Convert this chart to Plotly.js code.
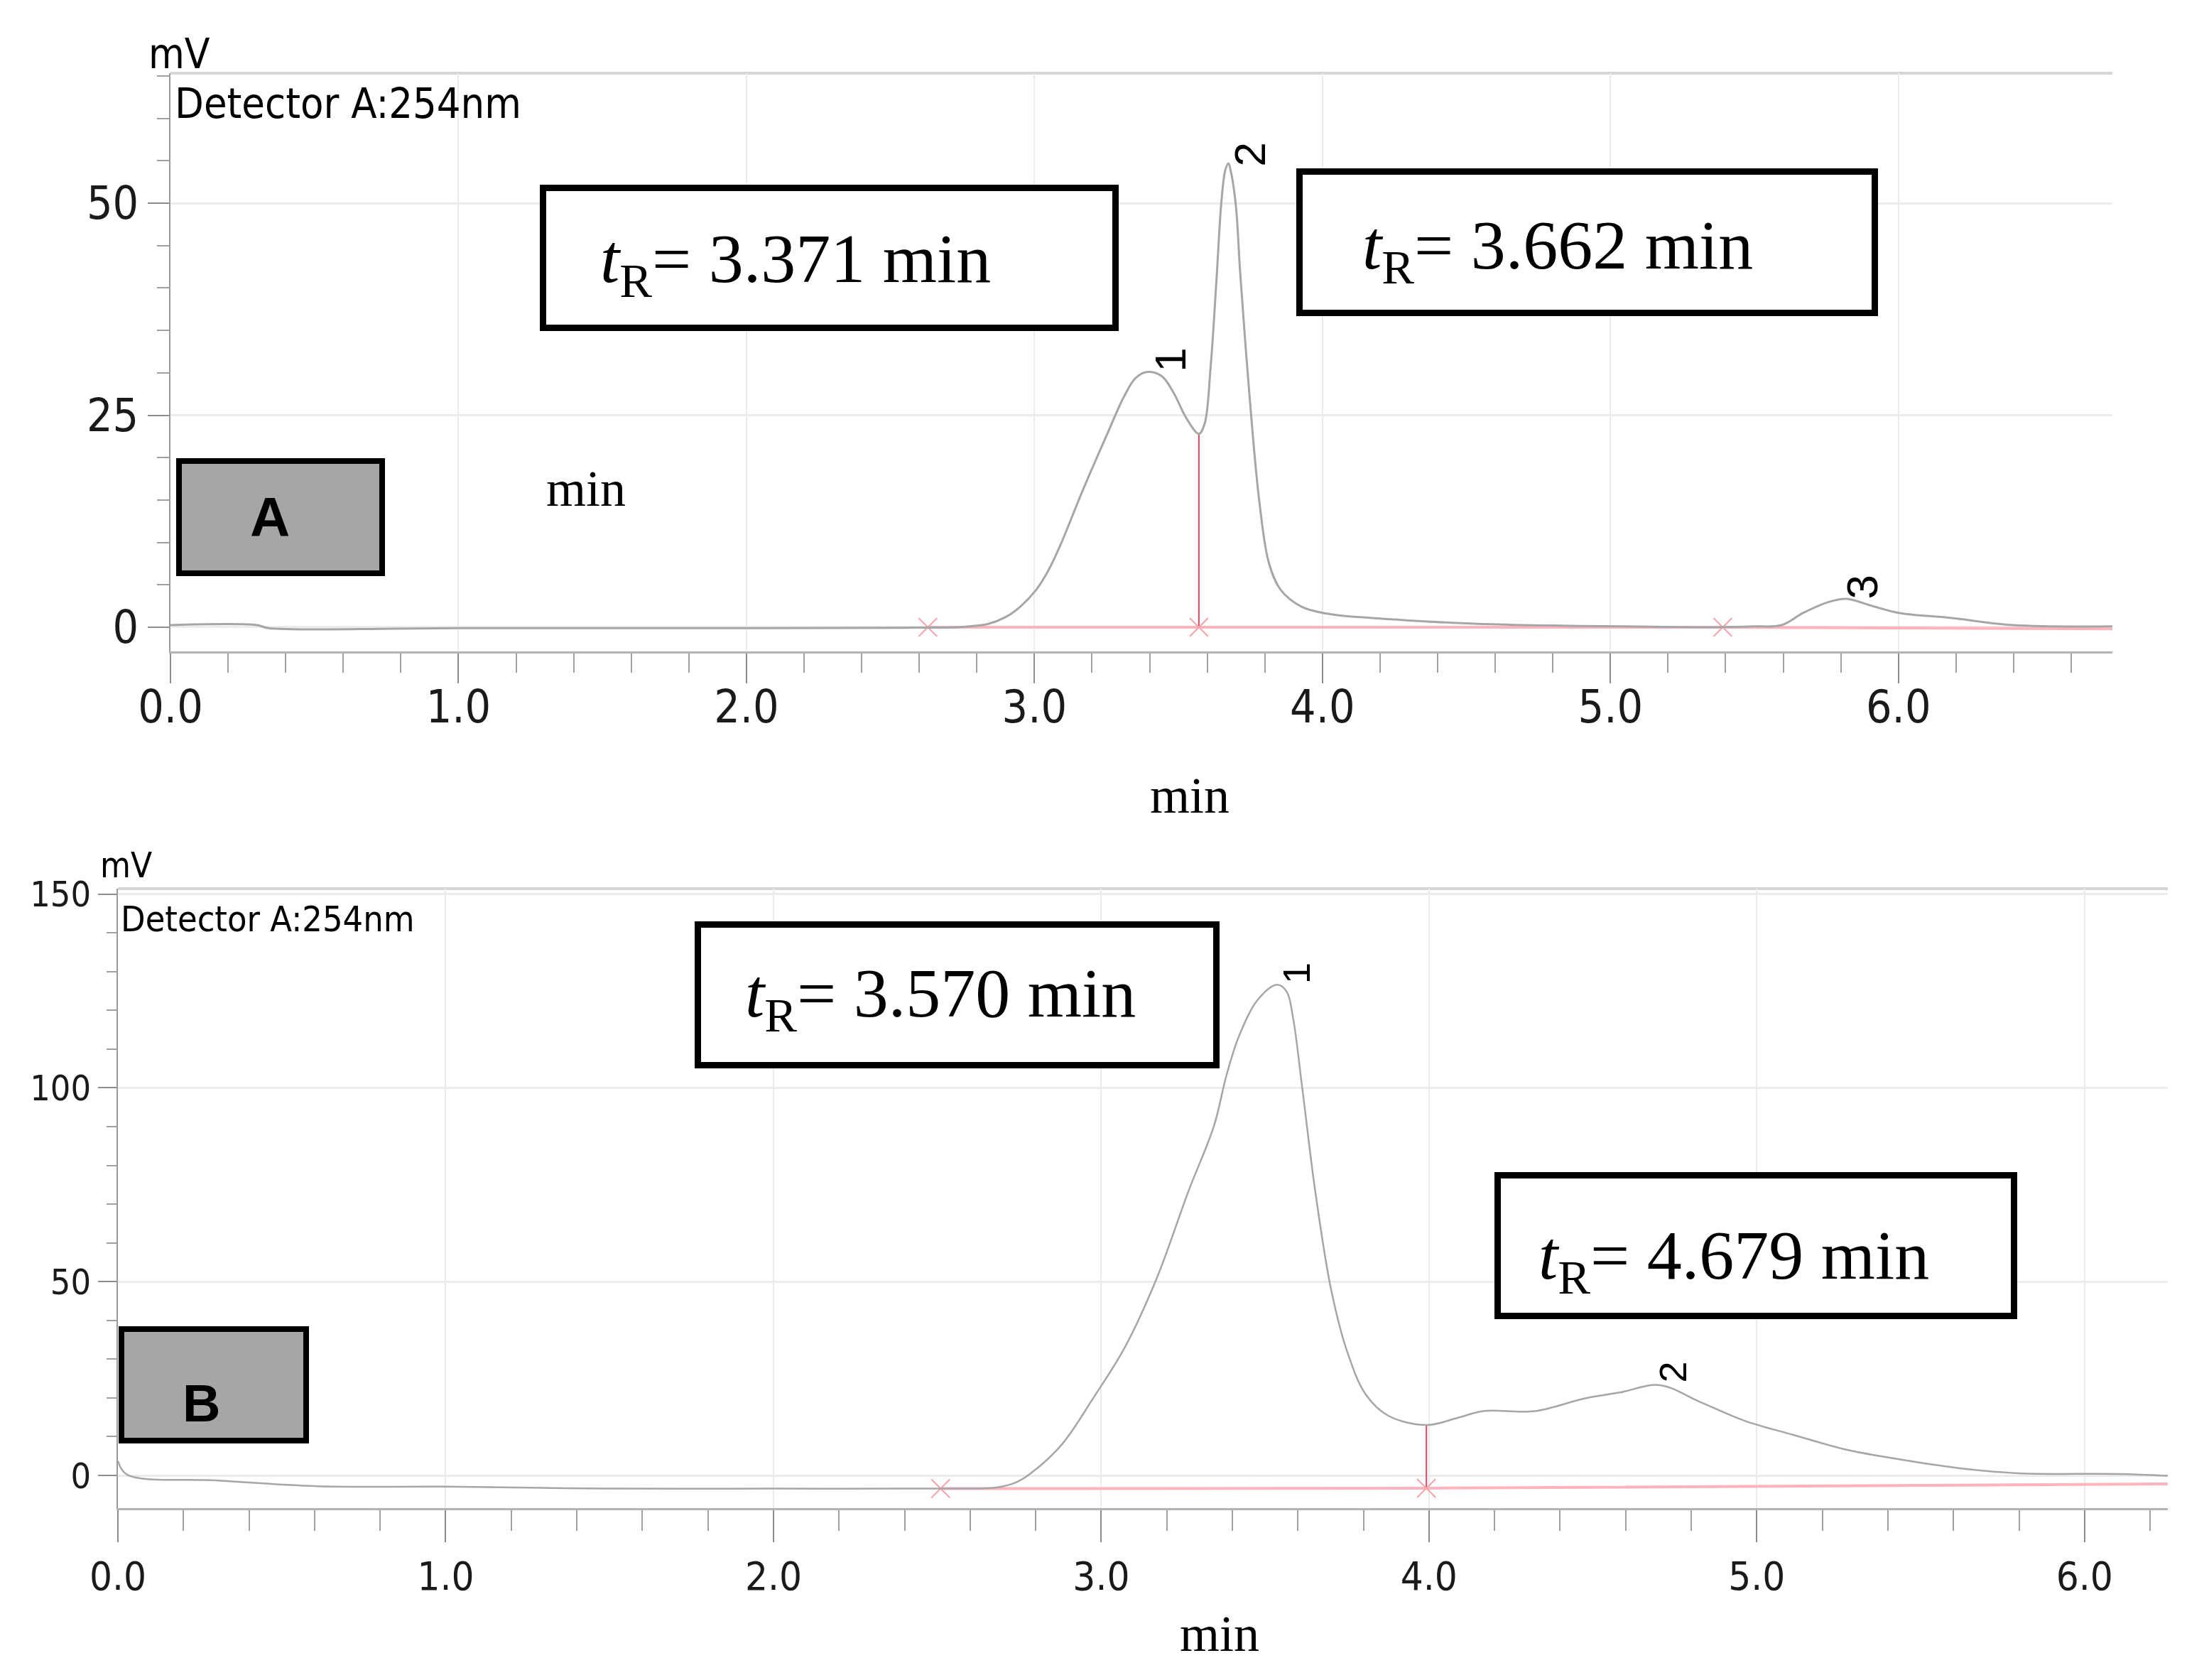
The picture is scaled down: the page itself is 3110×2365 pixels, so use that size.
<!DOCTYPE html>
<html>
<head>
<meta charset="utf-8">
<script src="https://cdn.plot.ly/plotly-3.0.1.min.js"></script>
<style>
  html, body { margin: 0; padding: 0; background: #fff; }
  #chart { width: 3110px; height: 2365px; }
</style>
</head>
<body>
<div id="chart"></div>
<script>
// HPLC chromatograms, Detector A 254 nm (panel A and panel B)

// panel A: retention time (min) and signal (mV)
var timeA = [0, 0.30, 0.34, 1.0, 2.0, 2.6, 2.75, 2.84, 2.90, 2.95, 3.006, 3.05, 3.089, 3.171, 3.253, 3.311, 3.352,
  3.393, 3.442, 3.484, 3.525, 3.571, 3.591, 3.612, 3.632, 3.649, 3.662, 3.673, 3.684, 3.70, 3.714,
  3.748, 3.781, 3.814, 3.855, 3.929, 4.035, 4.164, 4.30, 4.54, 4.80, 5.05, 5.38, 5.50, 5.594,
  5.67, 5.76, 5.82, 5.90, 6.0, 6.18, 6.40, 6.743];
var signalA = [0.25, 0.25, -0.1, -0.1, -0.1, -0.05, 0.05, 0.4, 1.2, 2.4, 4.4, 6.8, 9.6, 16.4, 22.8, 27.2, 29.4,
  30.1, 29.6, 27.6, 24.8, 22.8, 24.0, 30.8, 40.9, 50.1, 53.8, 54.7, 53.4, 49.5, 42.0,
  26.8, 14.8, 7.6, 4.4, 2.4, 1.5, 1.1, 0.8, 0.4, 0.2, 0.1, 0.0, 0.1, 0.25,
  1.7, 3.0, 3.35, 2.6, 1.7, 1.1, 0.25, 0.1];

// panel A integration baseline, peak split and marks
var baseTimeA = [2.63, 3.571, 5.39, 6.743];
var baseSignalA = [0, 0, 0, -0.2];
var splitTimeA = [3.571, 3.571];
var splitSignalA = [0, 22.8];
var markTimeA = [2.63, 3.571, 5.39];
var markSignalA = [0, 0, 0];

// panel A peak numbers and retention times
var peaksA = ['1', '2', '3'];
var peakLabelTimeA = [3.472, 3.748, 5.874];
var peakLabelSignalA = [31.5, 55.7, 4.7];
var retentionA = ['3.371', '3.662'];

// panel B
var timeB = [0, 0.028, 0.30, 0.61, 1.0, 1.49, 2.0, 2.5, 2.68, 2.74, 2.783, 2.879, 2.976, 3.073, 3.17,
  3.266, 3.344, 3.382, 3.421, 3.479, 3.537, 3.566, 3.585, 3.614, 3.653, 3.701, 3.749, 3.807,
  3.876, 3.992, 4.089, 4.165, 4.323, 4.476, 4.582, 4.704, 4.826, 4.963, 5.114, 5.266, 5.418,
  5.616, 5.799, 6.102, 6.254];
var signalB = [3.7, 0.2, -1.3, -2.8, -2.9, -3.4, -3.4, -3.4, -3.1, -1.8, 0.4, 7.9, 20.0, 33.2, 51.0,
  73.3, 90.2, 103.2, 113.5, 122.9, 126.6, 124.8, 118.2, 99.5, 73.3, 48.1, 32.3, 20.9,
  15.4, 13.0, 14.9, 16.6, 16.6, 19.9, 21.4, 23.3, 19.0, 14.1, 10.4, 6.8, 4.4,
  1.9, 0.55, 0.37, -0.1];

var baseTimeB = [2.51, 3.992, 6.254];
var baseSignalB = [-3.4, -3.3, -2.2];
var splitTimeB = [3.992, 3.992];
var splitSignalB = [-3.3, 13.0];
var markTimeB = [2.51, 3.992];
var markSignalB = [-3.4, -3.3];

var peaksB = ['1', '2'];
var peakLabelTimeB = [3.595, 4.743];
var peakLabelSignalB = [129.6, 26.6];
var retentionB = ['3.570', '4.679'];

var W = 3110, H = 2365;
function px(x) { return x / W; }
function py(y) { return 1 - y / H; }

var narrow = 'Liberation Sans Narrow, DejaVu Sans Condensed, Arial Narrow, sans-serif';
var serif = 'Liberation Serif, Times New Roman, serif';
var sans = 'Liberation Sans, Arial, sans-serif';
var curveColor = '#a6a6a6';
var baseColor = '#ffb3bd';
var splitColor = '#e2485c';

function curve(x, y, xa, ya, w) {
  return {x: x, y: y, xaxis: xa, yaxis: ya, type: 'scatter', mode: 'lines',
    line: {color: curveColor, width: w, shape: 'spline', smoothing: 1}, hoverinfo: 'x+y'};
}
function redLine(x, y, xa, ya, color, w) {
  return {x: x, y: y, xaxis: xa, yaxis: ya, type: 'scatter', mode: 'lines',
    line: {color: color, width: w}, hoverinfo: 'skip'};
}
function marks(x, y, xa, ya) {
  return {x: x, y: y, xaxis: xa, yaxis: ya, type: 'scatter', mode: 'markers',
    marker: {symbol: 'x-thin-open', size: 26, color: '#f7a3ae', line: {color: '#f7a3ae', width: 2}},
    hoverinfo: 'skip'};
}

var data = [
  redLine(baseTimeA, baseSignalA, 'x', 'y', baseColor, 4),
  redLine(splitTimeA, splitSignalA, 'x', 'y', splitColor, 2),
  marks(markTimeA, markSignalA, 'x', 'y'),
  curve(timeA, signalA, 'x', 'y', 3),
  redLine(baseTimeB, baseSignalB, 'x2', 'y2', baseColor, 4),
  redLine(splitTimeB, splitSignalB, 'x2', 'y2', splitColor, 2),
  marks(markTimeB, markSignalB, 'x2', 'y2'),
  curve(timeB, signalB, 'x2', 'y2', 2.5)
];

function xAxis(dom, range, size, len, standoff, anchor) {
  return {
    domain: dom, range: range, anchor: anchor, dtick: 1, tickformat: '.1f',
    ticks: 'outside', ticklen: len, tickwidth: 2, tickcolor: '#8c8c8c',
    ticklabelstandoff: standoff,
    showline: true, linecolor: '#b4b4b4', linewidth: 3,
    showgrid: true, gridcolor: '#ececec', gridwidth: 2, zeroline: false,
    minor: {dtick: 0.2, ticks: 'outside', ticklen: Math.round(len * 0.65), tickwidth: 2, tickcolor: '#a0a0a0', showgrid: false},
    tickfont: {family: narrow, size: size, color: '#1a1a1a'}
  };
}
function yAxis(dom, range, dtick, minorDtick, size, len, anchor) {
  return {
    domain: dom, range: range, anchor: anchor, dtick: dtick,
    ticks: 'outside', ticklen: len, tickwidth: 2, tickcolor: '#8c8c8c',
    showline: true, linecolor: '#9a9a9a', linewidth: 2,
    showgrid: true, gridcolor: '#ececec', gridwidth: 3, zeroline: false,
    minor: {dtick: minorDtick, ticks: 'outside', ticklen: Math.round(len * 0.55), tickwidth: 2, tickcolor: '#a0a0a0', showgrid: false},
    tickfont: {family: narrow, size: size, color: '#1a1a1a'}
  };
}

function rect(x0, y0, x1, y1, fill, lw) {
  return {type: 'rect', xref: 'paper', yref: 'paper', x0: px(x0), x1: px(x1), y0: py(y1), y1: py(y0),
    line: {color: 'black', width: lw}, fillcolor: fill, layer: 'above'};
}
function topBorder(xa, ya) {
  return {type: 'line', xref: xa + ' domain', yref: ya + ' domain', x0: 0, x1: 1, y0: 1, y1: 1,
    line: {color: '#d6d6d6', width: 4}, layer: 'below'};
}
function text(t, x, y, family, size, xanchor) {
  return {text: t, xref: 'paper', yref: 'paper', x: px(x), y: py(y), xanchor: xanchor, yanchor: 'middle',
    showarrow: false, font: {family: family, size: size, color: 'black'}};
}
function tR(value) { return '<i>t</i><sub>R</sub>= ' + value + ' min'; }

var annotations = [
  text('mV', 207, 76, narrow, 58, 'left'),
  text('Detector A:254nm', 244, 145, narrow, 59, 'left'),
  text(tR(retentionA[0]), 843, 372, serif, 98, 'left'),
  text(tR(retentionA[1]), 1916, 352, serif, 98, 'left'),
  text('<b>A</b>', 380, 728, sans, 78, 'center'),
  text('min', 825, 688, serif, 72, 'center'),
  text('min', 1675, 1120, serif, 72, 'center'),
  text('mV', 139, 1218, narrow, 49, 'left'),
  text('Detector A:254nm', 168, 1294, narrow, 50, 'left'),
  text(tR(retentionB[0]), 1047, 1405, serif, 98, 'left'),
  text(tR(retentionB[1]), 2164, 1775, serif, 98, 'left'),
  text('<b>B</b>', 283, 1975, sans, 74, 'center'),
  text('min', 1717, 2300, serif, 72, 'center')
];

for (var i = 0; i < peaksA.length; i++) {
  annotations.push({text: peaksA[i], xref: 'x', yref: 'y', x: peakLabelTimeA[i], y: peakLabelSignalA[i],
    showarrow: false, textangle: -90, font: {family: sans, size: 62, color: 'black'}});
}
for (var j = 0; j < peaksB.length; j++) {
  annotations.push({text: peaksB[j], xref: 'x2', yref: 'y2', x: peakLabelTimeB[j], y: peakLabelSignalB[j],
    showarrow: false, textangle: -90, font: {family: sans, size: 54, color: 'black'}});
}

var layout = {
  width: W, height: H,
  margin: {l: 0, r: 0, t: 0, b: 0},
  paper_bgcolor: 'white', plot_bgcolor: 'white',
  showlegend: false,
  xaxis: xAxis([px(240), px(2974)], [0, 6.743], 64, 42, -22, 'y'),
  yaxis: yAxis([py(917), py(103)], [-2.85, 65.33], 25, 5, 64, 30, 'x'),
  xaxis2: xAxis([px(166), px(3052)], [0, 6.254], 56, 45, 0, 'y2'),
  yaxis2: yAxis([py(2123), py(1251)], [-8.43, 151.4], 50, 10, 50, 26, 'x2'),
  shapes: [
    topBorder('x', 'y'),
    topBorder('x2', 'y2'),
    rect(764.5, 264.5, 1570.5, 461.5, 'white', 9),
    rect(1829.5, 241.5, 2639.5, 440.5, 'white', 9),
    rect(252, 649, 538, 807, '#a6a6a6', 8),
    rect(982.5, 1301.5, 1712.5, 1499.5, 'white', 9),
    rect(2108.5, 1654.5, 2835.5, 1852.5, 'white', 9),
    rect(171, 1871, 431, 2028, '#a6a6a6', 8)
  ],
  annotations: annotations
};

Plotly.newPlot('chart', data, layout, {displayModeBar: false, responsive: false});
</script>
</body>
</html>
